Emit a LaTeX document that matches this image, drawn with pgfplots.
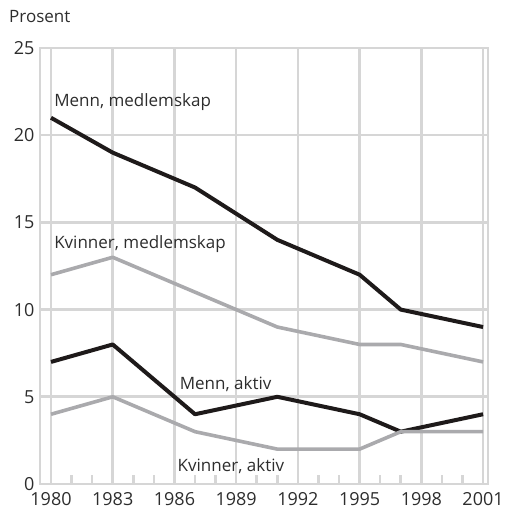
\documentclass[border=0pt]{standalone}
\usepackage{fontspec}
\setmainfont{Open Sans}
\usepackage{pgfplots}
\pgfplotsset{compat=1.18}
\definecolor{gridgray}{RGB}{214,214,214}
\definecolor{lineblack}{RGB}{30,26,26}
\definecolor{linegray}{RGB}{170,170,173}
\definecolor{txt}{RGB}{45,45,45}
\begin{document}
\begin{tikzpicture}
\begin{axis}[
  scale only axis,
  width=448pt, height=436pt,
  xmin=1979.465, xmax=2001.24,
  ymin=0, ymax=25,
  xtick={1980,1983,...,2001},
  minor xtick={1981,1982,1984,1985,1987,1988,1990,1991,1993,1994,1996,1997,1999,2000},
  ytick={0,5,...,25},
  xticklabel style={/pgf/number format/1000 sep={}},
  /pgf/number format/assume math mode=true,
  tick label style={font=\fontsize{18}{21}\selectfont, text=txt},
  yticklabel style={xshift=-2pt},
  xticklabel style={yshift=-5pt},
  grid=major,
  major grid style={draw=gridgray, line width=2.6pt},
  axis line style={draw=gridgray, line width=2.6pt},
  tick style={draw=gridgray, line width=2.6pt},
  major tick length=0pt,
  minor tick length=9pt,
  tick align=inside,
  xtick pos=lower, ytick pos=left,
  clip=false,
]
\addplot[lineblack, line width=4pt, line join=round] coordinates {
(1980,21) (1983,19) (1987,17) (1991,14) (1995,12) (1997,10) (2001,9)};
\addplot[linegray, line width=3.6pt, line join=round] coordinates {
(1980,12) (1983,13) (1987,11) (1991,9) (1995,8) (1997,8) (2001,7)};
\addplot[lineblack, line width=4pt, line join=round] coordinates {
(1980,7) (1983,8) (1987,4) (1991,5) (1995,4) (1997,3) (2001,4)};
\addplot[linegray, line width=3.6pt, line join=round] coordinates {
(1980,4) (1983,5) (1987,3) (1991,2) (1995,2) (1997,3) (2001,3)};
\begin{scope}[every node/.style={font=\fontsize{17}{20}\selectfont, text=txt, anchor=west, inner sep=0pt}]
\node at (axis cs:1980.15,21.9) {Menn, medlemskap};
\node at (axis cs:1980.15,13.75) {Kvinner, medlemskap};
\node at (axis cs:1986.25,5.7) {Menn, aktiv};
\node at (axis cs:1986.15,1.05) {Kvinner, aktiv};
\node at ([xshift=-31pt,yshift=31pt]rel axis cs:0,1) {Prosent};
\end{scope}
\coordinate (bbSW) at ([xshift=-40pt,yshift=-26pt]rel axis cs:0,0);
\coordinate (bbNE) at ([xshift=16pt,yshift=48pt]rel axis cs:1,1);
\end{axis}
\pgfresetboundingbox
\path[use as bounding box] (bbSW) rectangle (bbNE);
\end{tikzpicture}
\end{document}
